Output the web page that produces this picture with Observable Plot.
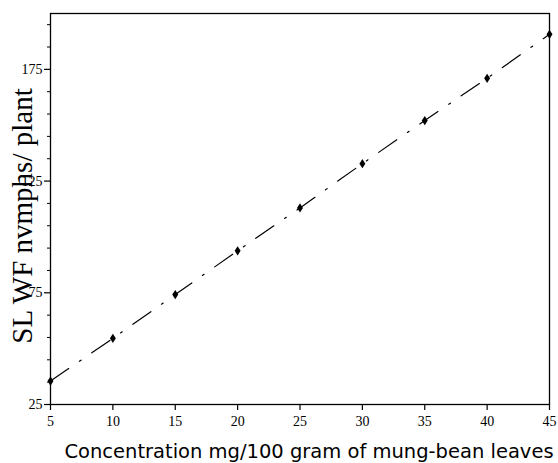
<!DOCTYPE html>
<html>
<head>
<meta charset="utf-8">
<script src="https://cdn.jsdelivr.net/npm/d3@7"></script>
<script src="https://cdn.jsdelivr.net/npm/@observablehq/plot@0.6"></script>
<style>
  html, body { margin: 0; padding: 0; background: #fff; }
  #chart { width: 558px; height: 463px; }
</style>
</head>
<body>
<div id="chart"></div>
<script>
const concentration = [5, 10, 15, 20, 25, 30, 35, 40, 45];
const nymphs = [35.5, 54.6, 74.2, 93.8, 113.0, 132.8, 152.1, 171.0, 190.7];
const xTicks = [5, 10, 15, 20, 25, 30, 35, 40, 45];
const yTicks = [25, 75, 125, 175];
const yMinorTicks = [35, 45, 55, 65, 85, 95, 105, 115, 135, 145, 155, 165, 185, 195];
const xLabel = "Concentration mg/100 gram of mung-bean leaves";
const yLabel = "SL WF nvmphs/ plant";

const data = concentration.map((c, i) => ({x: c, y: nymphs[i]}));

const tallDiamond = {
  draw(ctx, size) {
    const r = Math.sqrt(size / Math.PI);
    ctx.moveTo(0, -r * 1.4);
    ctx.lineTo(r * 0.9, 0);
    ctx.lineTo(0, r * 1.4);
    ctx.lineTo(-r * 0.9, 0);
    ctx.closePath();
  }
};

const chart = Plot.plot({
  width: 558,
  height: 463,
  marginLeft: 50,
  marginRight: 9,
  marginTop: 13,
  marginBottom: 59,
  style: {fontFamily: "'Liberation Serif', serif", fontSize: "14px", color: "#000", background: "#fff"},
  x: {domain: [5, 45]},
  y: {domain: [25, 200]},
  marks: [
    Plot.frame({stroke: "#000", strokeWidth: 1.3}),
    Plot.axisX({ticks: xTicks, tickSize: 6, tickPadding: 6, label: null, stroke: "#000", strokeWidth: 1.2, fill: "#000"}),
    Plot.axisY({ticks: yTicks, tickSize: 6, tickPadding: 2, label: null, stroke: "#000", strokeWidth: 1.2, fill: "#000"}),
    Plot.axisY({ticks: yMinorTicks, tickSize: 3, text: null, label: null, stroke: "#000", strokeWidth: 1}),
    Plot.line(data, {x: "x", y: "y", stroke: "#000", strokeWidth: 1.2, strokeDasharray: "22,13,2,13"}),
    Plot.dot(data, {x: "x", y: "y", r: 3.3, symbol: tallDiamond, fill: "#000", stroke: "none"}),
    Plot.text([xLabel], {frameAnchor: "bottom", textAnchor: "middle", dy: 53, dx: 9, text: d => d, fontFamily: "'DejaVu Sans', sans-serif", fontSize: 19.5, fill: "#000"}),
    Plot.text([yLabel], {frameAnchor: "left", textAnchor: "middle", rotate: -90, dx: -28, dy: 7, text: d => d, fontFamily: "'Liberation Serif', serif", fontSize: 29, fill: "#000"})
  ]
});
document.getElementById("chart").appendChild(chart);
</script>
</body>
</html>
